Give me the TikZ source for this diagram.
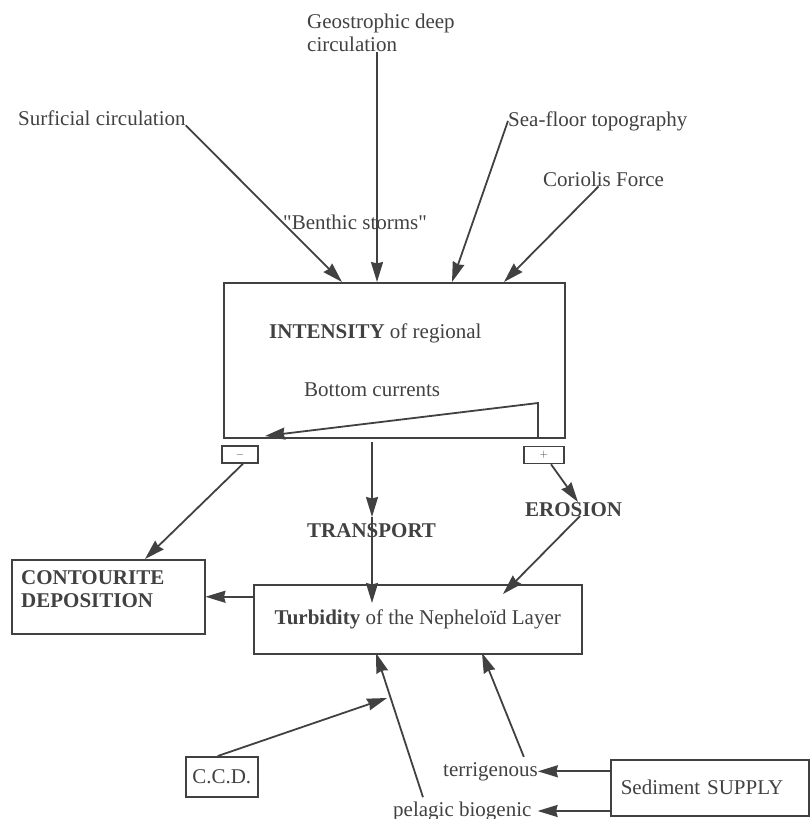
\documentclass[tikz,border=0pt]{standalone}
\usepackage{fontspec}
\setmainfont{Liberation Serif}[Ligatures=TeXOff]
\usetikzlibrary{arrows.meta}
\definecolor{ink}{RGB}{65,65,65}

\tikzset{
  lbl/.style={inner sep=0pt, text=ink, font=\fontsize{21}{23}\selectfont},
  boldlbl/.style={lbl, font=\fontsize{21}{23}\selectfont\bfseries},
  box/.style={draw=ink, line width=1.5pt, inner sep=0pt, text=ink, font=\fontsize{21}{23}\selectfont},
  sign/.style={box, minimum height=17, font=\fontsize{11}{11}\selectfont},
  flow/.style={draw=ink, line width=1.8pt, -{Stealth[length=20pt,width=12pt,inset=1.5pt]}},
}

\begin{document}
\begin{tikzpicture}[x=1pt, y=-1pt]

\useasboundingbox (0,0) rectangle (809,819);

% Factors driving the bottom currents
\node[lbl, anchor=north west, align=left] (geo) at (307,14) {Geostrophic deep\\circulation};
\node[lbl, anchor=base west] (surf) at (18,125) {Surficial circulation};
\node[lbl, anchor=base west] (sea) at (508,126) {Sea-floor topography};
\node[lbl, anchor=base west] (cor) at (543,186) {Coriolis Force};
\node[lbl, anchor=base west] (storms) at (283,229) {"Benthic storms"};

% Box of the regional bottom currents
\node[box, anchor=north west, minimum width=341, minimum height=155] (intensity) at (223,282) {};
\node[lbl, anchor=base west] (regional) at (269,338) {\textbf{INTENSITY} of regional};
\node[lbl, anchor=base west] (bottom) at (304,396) {Bottom currents};
\node[sign, minimum width=36] (minus) at (240,454.5) {$-$};
\node[sign, minimum width=40] (plus) at (544,455) {$+$};

\coordinate (surfIn) at (342,282);
\coordinate (geoIn) at (377,282);
\coordinate (seaIn) at (452,282);
\coordinate (corIn) at (504,282);

\draw[flow] (surf.south east) -- (surfIn);
\draw[flow] (geo.south -| geoIn) -- (geoIn);
\draw[flow] (sea.west) -- (seaIn);
\draw[flow] ([xshift=-5]cor.south) -- (corIn);

% Feedback inside the box
\coordinate (loopTop) at (538,403);
\coordinate (loopEnd) at (265,436);
\draw[flow] (intensity.south -| loopTop) -- (loopTop) -- (loopEnd);

% Transport and erosion
\node[boldlbl, anchor=base west] (transport) at (307,537) {TRANSPORT};
\node[boldlbl, anchor=base west] (erosion) at (525,516) {EROSION};

\coordinate (trTop) at (372,442);
\coordinate (trMid) at (372,517);
\coordinate (trIn) at (372,603);
\draw[flow] (trTop) -- (trMid);
\draw[flow] (trMid) -- (trIn);

\coordinate (erTop) at (578,502);
\coordinate (erBot) at (580,516);
\coordinate (erIn) at (503,594);
\draw[flow] ([xshift=7]plus.south) -- (erTop);
\draw[flow] (erBot) -- (erIn);

% Deposition and the nepheloid layer
\node[box, anchor=north west, minimum width=193, minimum height=74] (contourite) at (11,559) {};
\node[boldlbl, anchor=north west, align=left] (deposition) at (21,570) {CONTOURITE\\DEPOSITION};
\node[box, anchor=north west, minimum width=328, minimum height=69] (turbidity) at (253,584) {\textbf{Turbidity} of the Nephelo\"id Layer};

\coordinate (conIn) at (145,559);
\draw[flow] ([xshift=3]minus.south) -- (conIn);
\draw[flow] (turbidity.west |- contourite.east) -- (contourite.east);

% Sediment sources
\node[box, anchor=north west, minimum width=72, minimum height=40] (ccd) at (185,756) {C.C.D.};
\node[box, anchor=north west, minimum height=56, text width=178, inner xsep=10, align=left] (supply) at (610,759) {Sediment SUPPLY};
\node[lbl, anchor=base west] (terr) at (443,776) {terrigenous};
\node[lbl, anchor=base west] (pelagic) at (393,816) {pelagic biogenic};

\coordinate (ccdTip) at (387,698);
\coordinate (terrIn) at (482,653);
\coordinate (pelIn) at (376,653);

\draw[flow] ([xshift=-4]ccd.north) -- (ccdTip);
\draw[flow] ([xshift=-14,yshift=5]terr.north east) -- (terrIn);
\draw[flow] ([xshift=30,yshift=4]pelagic.north west) -- (pelIn);
\draw[flow] (supply.west |- terr.east) -- (terr.east);
\draw[flow] (supply.west |- pelagic.east) -- ([xshift=6]pelagic.east);

\end{tikzpicture}
\end{document}
